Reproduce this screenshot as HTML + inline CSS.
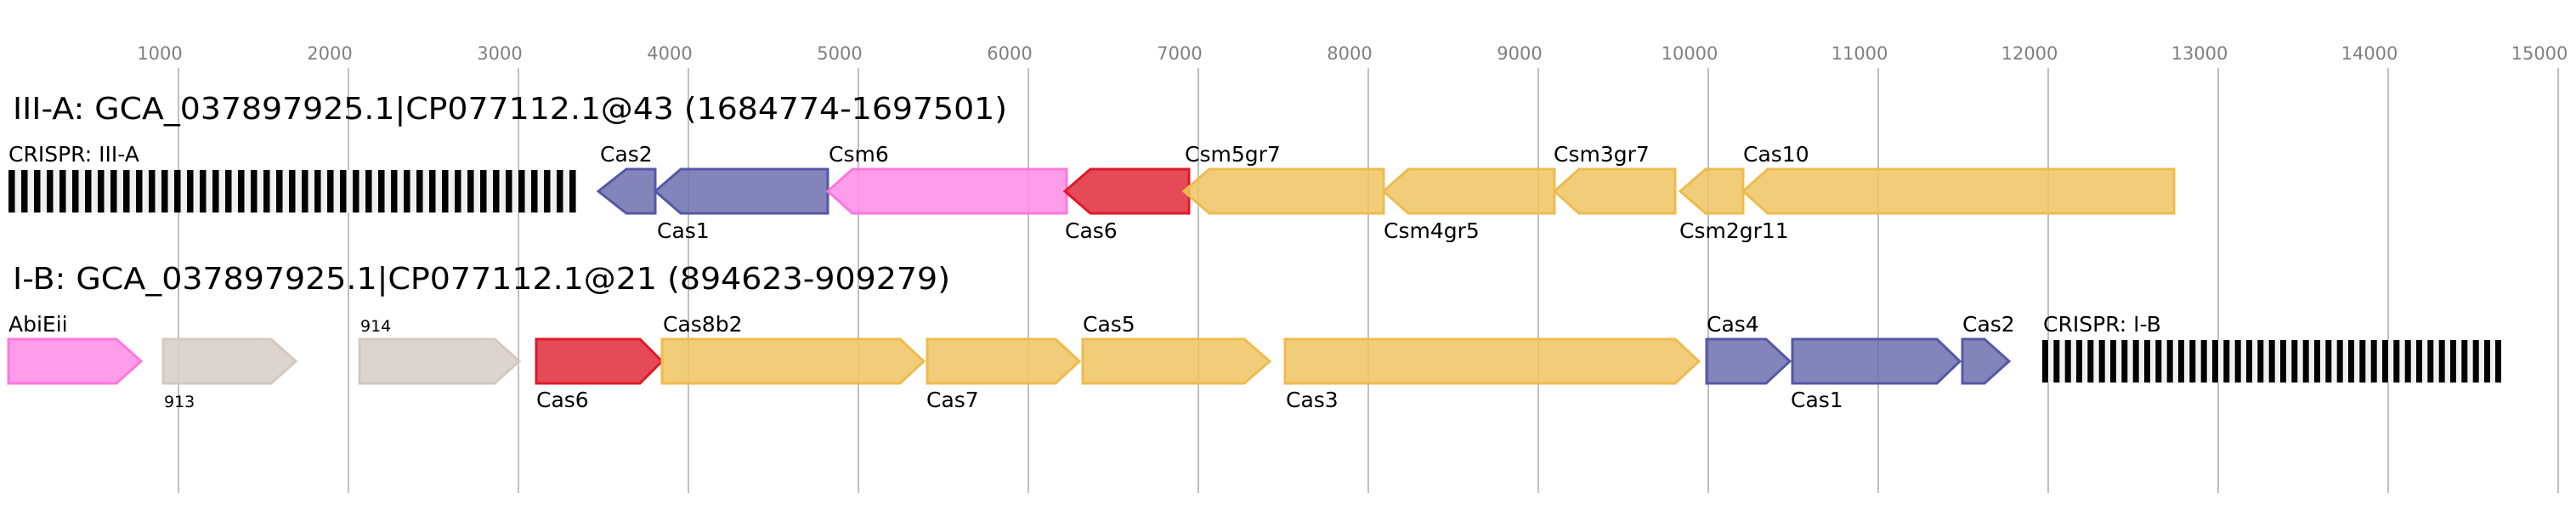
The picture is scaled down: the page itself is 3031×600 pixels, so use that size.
<!DOCTYPE html>
<html><head><meta charset="utf-8"><style>html,body{margin:0;padding:0;background:#fff}svg{display:block}</style></head>
<body>
<svg width="3031" height="600" viewBox="0 0 3031 600" xmlns="http://www.w3.org/2000/svg" font-family="'DejaVu Sans','Liberation Sans',sans-serif">
<g stroke="#c0c0c0" stroke-width="2">
<line x1="210" y1="80" x2="210" y2="580"/><line x1="410" y1="80" x2="410" y2="580"/><line x1="610" y1="80" x2="610" y2="580"/><line x1="810" y1="80" x2="810" y2="580"/><line x1="1010" y1="80" x2="1010" y2="580"/><line x1="1210" y1="80" x2="1210" y2="580"/><line x1="1410" y1="80" x2="1410" y2="580"/><line x1="1610" y1="80" x2="1610" y2="580"/><line x1="1810" y1="80" x2="1810" y2="580"/><line x1="2010" y1="80" x2="2010" y2="580"/><line x1="2210" y1="80" x2="2210" y2="580"/><line x1="2410" y1="80" x2="2410" y2="580"/><line x1="2610" y1="80" x2="2610" y2="580"/><line x1="2810" y1="80" x2="2810" y2="580"/><line x1="3010" y1="80" x2="3010" y2="580"/>
</g>
<g fill="#808080" font-size="21" text-anchor="middle">
<text x="188" y="70">1000</text><text x="388" y="70">2000</text><text x="588" y="70">3000</text><text x="788" y="70">4000</text><text x="988" y="70">5000</text><text x="1188" y="70">6000</text><text x="1388" y="70">7000</text><text x="1588" y="70">8000</text><text x="1788" y="70">9000</text><text x="1988" y="70">10000</text><text x="2188" y="70">11000</text><text x="2388" y="70">12000</text><text x="2588" y="70">13000</text><text x="2788" y="70">14000</text><text x="2988" y="70">15000</text>
</g>
<text x="15" y="140" font-size="36" textLength="1170" lengthAdjust="spacingAndGlyphs">III-A: GCA_037897925.1|CP077112.1@43 (1684774-1697501)</text>
<text x="15" y="340" font-size="36" textLength="1103" lengthAdjust="spacingAndGlyphs">I-B: GCA_037897925.1|CP077112.1@21 (894623-909279)</text>

<!-- CRISPR rows -->
<rect x="10" y="200" width="668" height="50" fill="#f0f0f0"/>
<g id="c1" fill="#000"></g>
<rect x="2403" y="400" width="540" height="50" fill="#f0f0f0"/>
<g id="c2" fill="#000"></g>

<g stroke-width="3" fill-opacity="0.85">
<!-- row1 reverse arrows -->
<polygon points="704,225 737,199 771,199 771,251 737,251" fill="#6d6fae" stroke="#5558a5"/>
<polygon points="771,225 801,199 974,199 974,251 801,251" fill="#6d6fae" stroke="#5558a5"/>
<polygon points="974,225 1003,199 1255,199 1255,251 1003,251" fill="#ff8ce6" stroke="#ff77dd"/>
<polygon points="1253,225 1283,199 1399,199 1399,251 1283,251" fill="#e02a3a" stroke="#dc1a2a"/>
<polygon points="1393,225 1423,199 1628,199 1628,251 1423,251" fill="#efc461" stroke="#eebb4d"/>
<polygon points="1628,225 1657,199 1829,199 1829,251 1657,251" fill="#efc461" stroke="#eebb4d"/>
<polygon points="1829,225 1858,199 1971,199 1971,251 1858,251" fill="#efc461" stroke="#eebb4d"/>
<polygon points="1977,225 2007,199 2051,199 2051,251 2007,251" fill="#efc461" stroke="#eebb4d"/>
<polygon points="2051,225 2080,199 2558,199 2558,251 2080,251" fill="#efc461" stroke="#eebb4d"/>
<!-- row2 forward arrows -->
<polygon points="10,399 137,399 166,425 137,451 10,451" fill="#ff8ce6" stroke="#ff77dd"/>
<polygon points="192,399 319,399 348,425 319,451 192,451" fill="#d6ccc5" stroke="#d5c8bf"/>
<polygon points="423,399 582,399 611,425 582,451 423,451" fill="#d6ccc5" stroke="#d5c8bf"/>
<polygon points="631,399 753,399 779,425 753,451 631,451" fill="#e02a3a" stroke="#dc1a2a"/>
<polygon points="779,399 1059,399 1087,425 1059,451 779,451" fill="#efc461" stroke="#eebb4d"/>
<polygon points="1091,399 1242,399 1270,425 1242,451 1091,451" fill="#efc461" stroke="#eebb4d"/>
<polygon points="1274,399 1464,399 1494,425 1464,451 1274,451" fill="#efc461" stroke="#eebb4d"/>
<polygon points="1512,399 1971,399 1999,425 1971,451 1512,451" fill="#efc461" stroke="#eebb4d"/>
<polygon points="2008,399 2078,399 2106,425 2078,451 2008,451" fill="#6d6fae" stroke="#5558a5"/>
<polygon points="2109,399 2279,399 2306,425 2279,451 2109,451" fill="#6d6fae" stroke="#5558a5"/>
<polygon points="2309,399 2335,399 2364,425 2335,451 2309,451" fill="#6d6fae" stroke="#5558a5"/>
</g>

<g font-size="25" fill="#000">
<text x="10" y="190">CRISPR: III-A</text>
<text x="706" y="190">Cas2</text>
<text x="773" y="280">Cas1</text>
<text x="975" y="190">Csm6</text>
<text x="1253" y="280">Cas6</text>
<text x="1394" y="190">Csm5gr7</text>
<text x="1628" y="280">Csm4gr5</text>
<text x="1828" y="190">Csm3gr7</text>
<text x="1976" y="280">Csm2gr11</text>
<text x="2051" y="190">Cas10</text>
<text x="10" y="390">AbiEii</text>
<text x="193" y="479" font-size="19">913</text>
<text x="424" y="390" font-size="19">914</text>
<text x="631" y="479">Cas6</text>
<text x="780" y="390">Cas8b2</text>
<text x="1090" y="479">Cas7</text>
<text x="1274" y="390">Cas5</text>
<text x="1513" y="479">Cas3</text>
<text x="2008" y="390">Cas4</text>
<text x="2107" y="479">Cas1</text>
<text x="2309" y="390">Cas2</text>
<text x="2404" y="390">CRISPR: I-B</text>
</g>
<g fill="#000">
<rect x="10" y="200" width="7.5" height="50"/><rect x="25" y="200" width="7.5" height="50"/><rect x="40" y="200" width="7.5" height="50"/><rect x="55" y="200" width="7.5" height="50"/><rect x="70" y="200" width="7.5" height="50"/><rect x="85" y="200" width="7.5" height="50"/><rect x="100" y="200" width="7.5" height="50"/><rect x="115" y="200" width="7.5" height="50"/><rect x="130" y="200" width="7.5" height="50"/><rect x="145" y="200" width="7.5" height="50"/><rect x="160" y="200" width="7.5" height="50"/><rect x="175" y="200" width="7.5" height="50"/><rect x="190" y="200" width="7.5" height="50"/><rect x="205" y="200" width="7.5" height="50"/><rect x="220" y="200" width="7.5" height="50"/><rect x="235" y="200" width="7.5" height="50"/><rect x="250" y="200" width="7.5" height="50"/><rect x="265" y="200" width="7.5" height="50"/><rect x="280" y="200" width="7.5" height="50"/><rect x="295" y="200" width="7.5" height="50"/><rect x="310" y="200" width="7.5" height="50"/><rect x="325" y="200" width="7.5" height="50"/><rect x="340" y="200" width="7.5" height="50"/><rect x="355" y="200" width="7.5" height="50"/><rect x="370" y="200" width="7.5" height="50"/><rect x="385" y="200" width="7.5" height="50"/><rect x="400" y="200" width="7.5" height="50"/><rect x="415" y="200" width="7.5" height="50"/><rect x="430" y="200" width="7.5" height="50"/><rect x="445" y="200" width="7.5" height="50"/><rect x="460" y="200" width="7.5" height="50"/><rect x="475" y="200" width="7.5" height="50"/><rect x="490" y="200" width="7.5" height="50"/><rect x="505" y="200" width="7.5" height="50"/><rect x="520" y="200" width="7.5" height="50"/><rect x="535" y="200" width="7.5" height="50"/><rect x="550" y="200" width="7.5" height="50"/><rect x="565" y="200" width="7.5" height="50"/><rect x="580" y="200" width="7.5" height="50"/><rect x="595" y="200" width="7.5" height="50"/><rect x="610" y="200" width="7.5" height="50"/><rect x="625" y="200" width="7.5" height="50"/><rect x="640" y="200" width="7.5" height="50"/><rect x="655" y="200" width="7.5" height="50"/><rect x="670" y="200" width="7.5" height="50"/>
<rect x="2403" y="400" width="7" height="50"/><rect x="2416.3" y="400" width="7" height="50"/><rect x="2429.7" y="400" width="7" height="50"/><rect x="2443" y="400" width="7" height="50"/><rect x="2456.3" y="400" width="7" height="50"/><rect x="2469.7" y="400" width="7" height="50"/><rect x="2483" y="400" width="7" height="50"/><rect x="2496.3" y="400" width="7" height="50"/><rect x="2509.7" y="400" width="7" height="50"/><rect x="2523" y="400" width="7" height="50"/><rect x="2536.3" y="400" width="7" height="50"/><rect x="2549.7" y="400" width="7" height="50"/><rect x="2563" y="400" width="7" height="50"/><rect x="2576.3" y="400" width="7" height="50"/><rect x="2589.7" y="400" width="7" height="50"/><rect x="2603" y="400" width="7" height="50"/><rect x="2616.3" y="400" width="7" height="50"/><rect x="2629.7" y="400" width="7" height="50"/><rect x="2643" y="400" width="7" height="50"/><rect x="2656.3" y="400" width="7" height="50"/><rect x="2669.7" y="400" width="7" height="50"/><rect x="2683" y="400" width="7" height="50"/><rect x="2696.3" y="400" width="7" height="50"/><rect x="2709.7" y="400" width="7" height="50"/><rect x="2723" y="400" width="7" height="50"/><rect x="2736.3" y="400" width="7" height="50"/><rect x="2749.7" y="400" width="7" height="50"/><rect x="2763" y="400" width="7" height="50"/><rect x="2776.3" y="400" width="7" height="50"/><rect x="2789.7" y="400" width="7" height="50"/><rect x="2803" y="400" width="7" height="50"/><rect x="2816.3" y="400" width="7" height="50"/><rect x="2829.7" y="400" width="7" height="50"/><rect x="2843" y="400" width="7" height="50"/><rect x="2856.3" y="400" width="7" height="50"/><rect x="2869.7" y="400" width="7" height="50"/><rect x="2883" y="400" width="7" height="50"/><rect x="2896.3" y="400" width="7" height="50"/><rect x="2909.7" y="400" width="7" height="50"/><rect x="2923" y="400" width="7" height="50"/><rect x="2936" y="400" width="7" height="50"/>
</g>
</svg>
</body></html>
